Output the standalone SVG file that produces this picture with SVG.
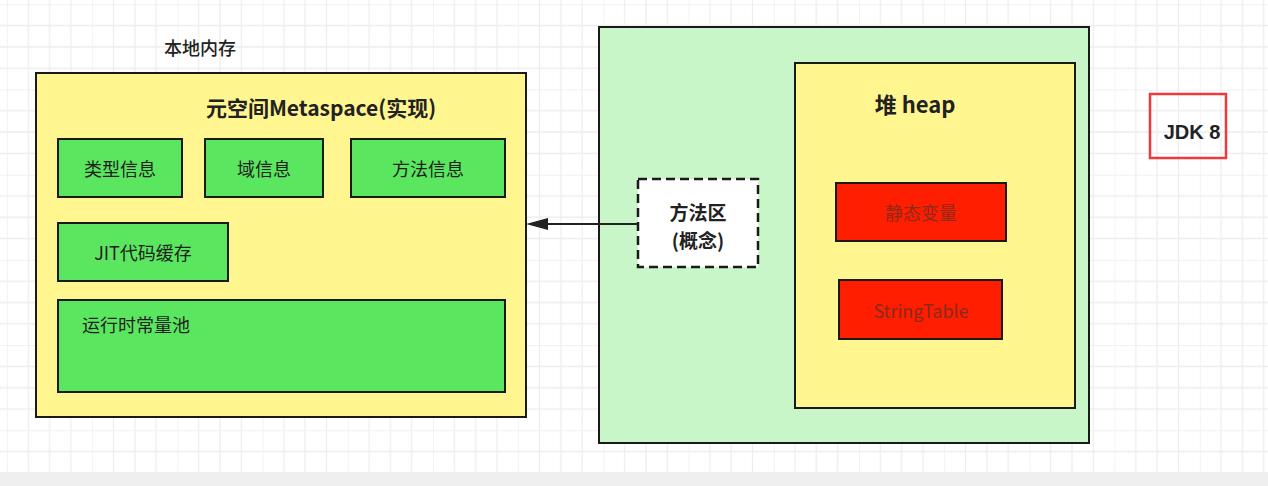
<svg xmlns="http://www.w3.org/2000/svg" width="1268" height="486" viewBox="0 0 1268 486">
<defs>
<pattern id="grid" patternUnits="userSpaceOnUse" x="7" y="4.3" width="85.2" height="85.2">
<path d="M0 0H85.2M0 21.3H85.2M0 42.6H85.2M0 63.9H85.2M0 0V85.2M21.3 0V85.2M42.6 0V85.2M63.9 0V85.2" stroke="#ededed" stroke-width="1.3" fill="none"/>
</pattern>
<marker id="arr" viewBox="0 0 22 12" refX="0" refY="6" markerWidth="22" markerHeight="12" markerUnits="userSpaceOnUse" orient="auto-start-reverse">
<path d="M0 0L22 6L0 12Z" fill="#222"/>
</marker>
<style>
.box{stroke:#1a1a1a;stroke-width:2}
.yel{fill:#fff68f}
.grn{fill:#5be660}
.red{fill:#ff1e00}
.t{font-family:"Noto Sans CJK SC","Liberation Sans",sans-serif;text-anchor:middle;dominant-baseline:central}
.lb{font-size:18px;fill:#1e1e1e}
.bd{font-weight:bold;fill:#222}
.rt{font-size:18px;fill:#8a2a1a}
</style>
</defs>
<rect width="1268" height="486" fill="#ffffff"/>
<rect width="1268" height="472" fill="url(#grid)"/>
<rect y="472" width="1268" height="14" fill="#efefef"/>

<g id="label-native">
<text class="t" x="200" y="47" font-size="18" font-weight="500" fill="#222">本地内存</text>
</g>
<g id="metaspace">
<rect class="box yel" x="36" y="73" width="490" height="344"/>
<text class="t bd" x="321" y="107" font-size="21">元空间Metaspace(实现)</text>
</g>
<g id="type-info">
<rect class="box grn" x="58" y="139" width="124" height="58"/>
<text class="t lb" x="120" y="168">类型信息</text>
</g>
<g id="field-info">
<rect class="box grn" x="205" y="139" width="118" height="58"/>
<text class="t lb" x="264" y="168">域信息</text>
</g>
<g id="method-info">
<rect class="box grn" x="351" y="139" width="154" height="58"/>
<text class="t lb" x="428" y="168">方法信息</text>
</g>
<g id="jit-cache">
<rect class="box grn" x="58" y="223" width="170" height="58"/>
<text class="t lb" x="143" y="252">JIT代码缓存</text>
</g>
<g id="runtime-pool">
<rect class="box grn" x="58" y="300" width="447" height="92"/>
<text class="t lb" x="82" y="324" style="text-anchor:start">运行时常量池</text>
</g>

<g id="jvm">
<rect class="box" x="599" y="27" width="490" height="416" fill="#c8f6c8"/>
</g>
<g id="heap">
<rect class="box yel" x="795" y="63" width="280" height="345"/>
<text class="t bd" x="915" y="103" font-size="22">堆 heap</text>
</g>
<g id="static-vars">
<rect class="box red" x="836" y="183" width="170" height="58"/>
<text class="t rt" x="921" y="212">静态变量</text>
</g>
<g id="string-table">
<rect class="box red" x="839" y="280" width="163" height="59"/>
<text class="t rt" x="921" y="310" font-size="19">StringTable</text>
</g>
<g id="method-area">
<rect x="638" y="179" width="120" height="88" fill="#ffffff" stroke="#1a1a1a" stroke-width="2.5" stroke-dasharray="9 5"/>
<text class="t bd" x="698" y="211" font-size="19">方法区</text>
<text class="t bd" x="698" y="239.5" font-size="19">(概念)</text>
</g>

<g id="jdk8">
<rect x="1150" y="94" width="76" height="64" fill="none" stroke="#ee3a3a" stroke-width="2.5"/>
<text class="t" x="1192" y="132" font-size="20" font-weight="bold" fill="#222" style="font-family:'Liberation Sans',sans-serif">JDK 8</text>
</g>

<g id="connectors">
<line x1="637" y1="224" x2="548" y2="224" stroke="#222" stroke-width="2" marker-end="url(#arr)"/>
</g>
</svg>
